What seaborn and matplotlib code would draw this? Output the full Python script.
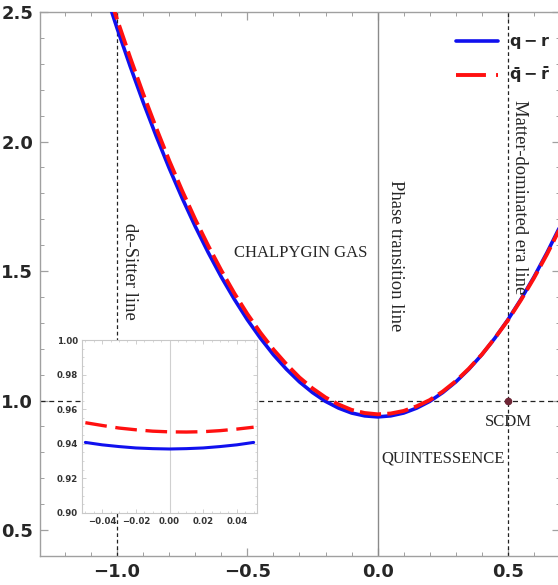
import numpy as np
import pandas as pd
import matplotlib
matplotlib.use("Agg")
import matplotlib.pyplot as plt
from matplotlib.ticker import MultipleLocator, FixedLocator
import seaborn as sns

# ---- data: statefinder trajectories (q, r) ----
q_main = [-1.05, -1.00, -0.95, -0.90, -0.85, -0.80, -0.75, -0.70, -0.65, -0.60,
          -0.55, -0.50, -0.45, -0.40, -0.35, -0.30, -0.25, -0.20, -0.15, -0.10,
          -0.05, 0.00, 0.05, 0.10, 0.15, 0.20, 0.25, 0.30, 0.35, 0.40,
          0.45, 0.50, 0.55, 0.60, 0.65, 0.70, 0.75]
r_blue = [2.591, 2.437, 2.291, 2.152, 2.021, 1.897, 1.781, 1.672, 1.571, 1.477,
          1.391, 1.312, 1.241, 1.177, 1.121, 1.072, 1.031, 0.997, 0.971, 0.952,
          0.941, 0.937, 0.941, 0.952, 0.971, 0.997, 1.031, 1.072, 1.121, 1.177,
          1.241, 1.312, 1.391, 1.477, 1.571, 1.672, 1.781]
r_red = [2.626, 2.471, 2.324, 2.184, 2.052, 1.926, 1.809, 1.699, 1.597, 1.502,
         1.414, 1.334, 1.262, 1.197, 1.140, 1.089, 1.047, 1.012, 0.985, 0.964,
         0.952, 0.947, 0.950, 0.960, 0.978, 1.002, 1.035, 1.075, 1.123, 1.178,
         1.241, 1.310, 1.388, 1.473, 1.565, 1.665, 1.773]

# zoom around the minimum
q_zoom = [-0.05, -0.04, -0.03, -0.02, -0.01, 0.00, 0.01, 0.02, 0.03, 0.04, 0.05]
r_blue_zoom = [0.9408, 0.9394, 0.9384, 0.9376, 0.9372, 0.9370, 0.9372, 0.9376,
               0.9384, 0.9394, 0.9408]
r_red_zoom = [0.9522, 0.9506, 0.9491, 0.9481, 0.9473, 0.9469, 0.9468, 0.9470,
              0.9476, 0.9485, 0.9496]

labels = [r"$\mathbf{q-r}$", r"$\mathbf{\bar{q}-\bar{r}}$"]
x_ticks = [-1.0, -0.5, 0.0, 0.5]
y_ticks = [0.5, 1.0, 1.5, 2.0, 2.5]
inset_x_ticks = [-0.04, -0.02, 0.00, 0.02, 0.04]
inset_y_ticks = [0.90, 0.92, 0.94, 0.96, 0.98, 1.00]

sns.set_style("ticks")
plt.rcParams["mathtext.fontset"] = "dejavusans"
plt.rcParams["font.family"] = ["DejaVu Sans"]

BLUE = "#1010ee"
RED = "#ff1010"
FRAME = "#a0a0a0"

fig = plt.figure(figsize=(5.58, 5.85), dpi=100)
ax = fig.add_axes([40 / 558, 29 / 585, 520 / 558, 544 / 585])

# reference lines
ax.axvline(-1.0, color="#222222", lw=0.9, ls=(0, (3, 2.2)), zorder=1)
ax.axvline(0.0, color="#8a8a8a", lw=1.0, zorder=1)
ax.axvline(0.5, color="#222222", lw=0.9, ls=(0, (3, 2.2)), zorder=1)
ax.axhline(1.0, color="#222222", lw=0.9, ls=(0, (4, 3)), zorder=1)

sns.lineplot(x=q_main, y=r_blue, ax=ax, color=BLUE, lw=2.6, label=labels[0],
             sort=False, zorder=3)
sns.lineplot(x=q_main, y=r_red, ax=ax, color=RED, lw=2.8, label=labels[1],
             sort=False, zorder=4)
ax.lines[-1].set_dashes([5.5, 1.6])

ax.plot([0.5], [1.0], "o", color="#6e2535", ms=4.5, zorder=5)

ax.set_xlim(-1.296, 0.70)
ax.set_ylim(0.4, 2.5)
ax.set_xlabel("")
ax.set_ylabel("")
ax.xaxis.set_major_locator(FixedLocator(x_ticks))
ax.yaxis.set_major_locator(FixedLocator(y_ticks))
ax.xaxis.set_minor_locator(MultipleLocator(0.1))
ax.yaxis.set_minor_locator(MultipleLocator(0.1))
ax.set_xticklabels([f"{v:.1f}".replace("-", "\u2212") for v in x_ticks])
ax.set_yticklabels([f"{v:.1f}" for v in y_ticks])
ax.tick_params(which="both", direction="in", top=True, right=True,
               color=FRAME, labelsize=13)
ax.tick_params(which="major", length=6, width=0.9, pad=5)
ax.tick_params(which="minor", length=3, width=0.7)
for lab in ax.get_xticklabels() + ax.get_yticklabels():
    lab.set_fontweight("bold")
for sp in ax.spines.values():
    sp.set_color(FRAME)
    sp.set_linewidth(1.0)

# annotations
serif = "Liberation Serif"
vsize = 13.4
hsize = 12
ax.text(-0.954, 1.50, "de-Sitter line", rotation=270, ha="center", va="center",
        family=serif, fontsize=vsize)
ax.text(0.069, 1.56, "Phase transition line", rotation=270, ha="center",
        va="center", family=serif, fontsize=vsize)
ax.text(0.546, 1.786, "Matter-dominated era line", rotation=270, ha="center",
        va="center", family=serif, fontsize=vsize)
ax.text(-0.295, 1.57, "CHALPYGIN GAS", ha="center", va="center",
        family=serif, fontsize=hsize)
ax.text(0.50, 0.917, "SCDM", ha="center", va="center", family=serif,
        fontsize=hsize)
ax.text(0.252, 0.778, "QUINTESSENCE", ha="center", va="center",
        family=serif, fontsize=hsize)

leg = ax.legend(loc="upper left", bbox_to_anchor=(442 / 558, 1 - 20 / 585),
                bbox_transform=fig.transFigure, frameon=False, fontsize=11.5,
                handlelength=2.6, handletextpad=0.7, labelspacing=0.8)
leg.get_lines()[1].set_dashes([7.7, 2.6, 7.7, 2.6])

# inset around the minimum
axi = fig.add_axes([82 / 558, (585 - 513) / 585, 175 / 558, 173 / 585])
axi.set_facecolor("white")
axi.axvline(0.0, color="#d0d0d0", lw=0.8, zorder=1)
sns.lineplot(x=q_zoom, y=r_blue_zoom, ax=axi, color=BLUE, lw=2.2, sort=False,
             zorder=3)
sns.lineplot(x=q_zoom, y=r_red_zoom, ax=axi, color=RED, lw=2.4, sort=False,
             zorder=4)
axi.lines[-1].set_dashes([6.5, 2.6])
axi.set_xlim(-0.052, 0.052)
axi.set_ylim(0.90, 1.00)
axi.xaxis.set_major_locator(FixedLocator(inset_x_ticks))
axi.yaxis.set_major_locator(FixedLocator(inset_y_ticks))
axi.xaxis.set_minor_locator(MultipleLocator(0.005))
axi.yaxis.set_minor_locator(MultipleLocator(0.005))
axi.set_xticklabels([f"{v:.2f}".replace("-", "\u2212") for v in inset_x_ticks])
axi.set_yticklabels([f"{v:.2f}" for v in inset_y_ticks])
axi.tick_params(which="both", direction="in", top=True, right=True,
                color="#c8c8c8", labelsize=6.2, labelcolor="#333333")
axi.tick_params(which="major", length=3, width=0.6, pad=3)
axi.tick_params(which="minor", length=1.6, width=0.5)
for lab in axi.get_xticklabels() + axi.get_yticklabels():
    lab.set_fontweight("bold")
for sp in axi.spines.values():
    sp.set_color("#c8c8c8")
    sp.set_linewidth(0.8)

fig.savefig("out.png", dpi=100)
